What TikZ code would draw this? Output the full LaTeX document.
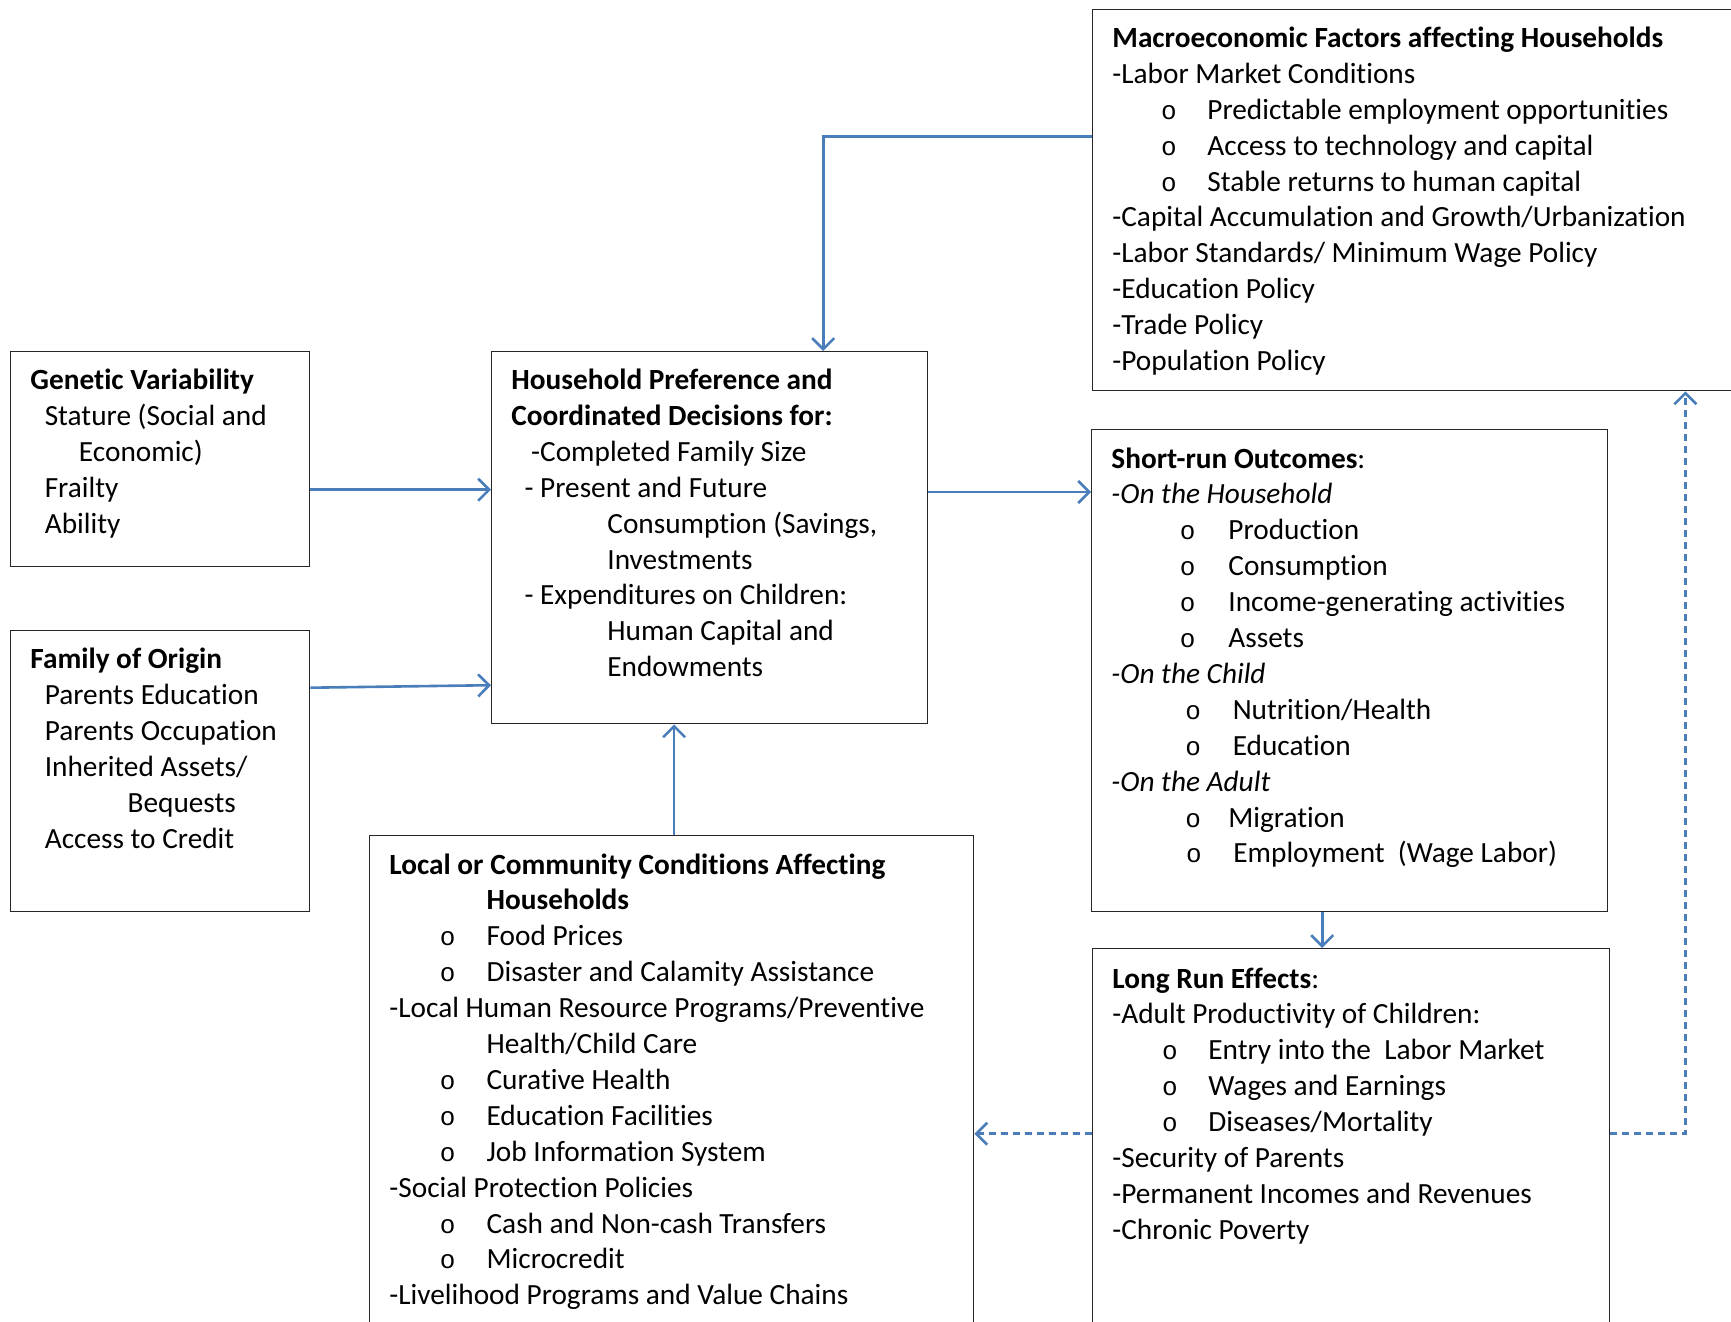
\documentclass[tikz,border=0pt]{standalone}
\usepackage{fontspec}
\setmainfont[Ligatures={NoCommon}]{Carlito}
\newfontfamily\bulletfont{Liberation Mono}
\usepackage{tikz}
\usetikzlibrary{positioning}
\usetikzlibrary{arrows.meta}
\usetikzlibrary{calc}
\definecolor{arrowblue}{RGB}{74,126,187}
\newcommand{\bodyfont}{\fontsize{14.65pt}{17.95pt}\selectfont}
\newcommand{\boxlines}[1]{\begin{minipage}[t]{330pt}\bodyfont\setlength{\parindent}{0pt}#1\end{minipage}}
\newcommand{\bul}[3]{\hspace*{#1}\makebox[\dimexpr #2-#1\relax][l]{\bulletfont\fontsize{13pt}{13pt}\selectfont o}#3}
\tikzstyle{frame}=[draw=black!85,line width=0.7pt,anchor=north west,inner sep=0pt]
\tikzstyle{boxtext}=[anchor=base west,inner sep=0pt]
\tikzstyle{edge} = [draw,line width=1.3pt,arrowblue,->,>={Straight Barb[length=5.5pt,width=11pt]}]
\tikzstyle{feedback} = [edge,dash pattern=on 3.5pt off 2.5pt]

\begin{document}
\begin{tikzpicture}[x=0.5pt,y=-0.5pt]
    \useasboundingbox (0,0) rectangle (1731,1322);

    \foreach \pos/\name/\boxw/\boxh in {{(1092,9)/macro/350/190.5}, {(10,351)/gv/149.5/107.5},
            {(10,630)/fam/149.5/140.5}, {(491,351)/hh/218/186}, {(1091,429)/sr/258/241},
            {(369,835)/local/302/300}, {(1092,948)/lr/258.5/250}}
        \node[frame,minimum width=\boxw pt,minimum height=\boxh pt] (\name) at \pos {};

    % box texts
    \node[boxtext] (macrotext) at ($(macro.north west)+(20,38.5)$) {\boxlines{%
        \textbf{Macroeconomic Factors affecting Households}\\
        -Labor Market Conditions\\
        \bul{24.3pt}{47.5pt}{Predictable employment opportunities}\\
        \bul{24.3pt}{47.5pt}{Access to technology and capital}\\
        \bul{24.3pt}{47.5pt}{Stable returns to human capital}\\
        -Capital Accumulation and Growth/Urbanization\\
        -Labor Standards/ Minimum Wage Policy\\
        -Education Policy\\
        -Trade Policy\\
        -Population Policy}};

    \node[boxtext] (gvtext) at ($(gv.north west)+(20,38.5)$) {\boxlines{%
        \textbf{Genetic Variability}\\
        \hspace*{7.2pt}Stature (Social and\\
        \hspace*{24.3pt}Economic)\\
        \hspace*{7.2pt}Frailty\\
        \hspace*{7.2pt}Ability}};

    \node[boxtext] (famtext) at ($(fam.north west)+(20,38.5)$) {\boxlines{%
        \textbf{Family of Origin}\\
        \hspace*{7.2pt}Parents Education\\
        \hspace*{7.2pt}Parents Occupation\\
        \hspace*{7.2pt}Inherited Assets/\\
        \hspace*{48.6pt}Bequests\\
        \hspace*{7.2pt}Access to Credit}};

    \node[boxtext] (hhtext) at ($(hh.north west)+(20,38.5)$) {\boxlines{%
        \textbf{Household Preference and}\\
        \textbf{Coordinated Decisions for:}\\
        \hspace*{9.9pt}-Completed Family Size\\
        \hspace*{6.6pt}- Present and Future\\
        \hspace*{48pt}Consumption (Savings,\\
        \hspace*{48pt}Investments\\
        \hspace*{6.6pt}- Expenditures on Children:\\
        \hspace*{48pt}Human Capital and\\
        \hspace*{48pt}Endowments}};

    \node[boxtext] (srtext) at ($(sr.north west)+(20,39)$) {\boxlines{%
        \textbf{Short-run Outcomes}:\\
        \textit{-On the Household}\\
        \bul{34.2pt}{58.5pt}{Production}\\
        \bul{34.2pt}{58.5pt}{Consumption}\\
        \bul{34.2pt}{58.5pt}{Income-generating activities}\\
        \bul{34.2pt}{58.5pt}{Assets}\\
        \textit{-On the Child}\\
        \bul{37pt}{60.7pt}{Nutrition/Health}\\
        \bul{37pt}{60.7pt}{Education}\\
        \textit{-On the Adult}\\
        \bul{37pt}{58.5pt}{Migration}\\
        \bul{37.3pt}{61pt}{Employment\ \ (Wage Labor)}}};

    \node[boxtext] (localtext) at ($(local.north west)+(20,39)$) {\boxlines{%
        \textbf{Local or Community Conditions Affecting}\\
        \hspace*{48.6pt}\textbf{Households}\\
        \bul{25.2pt}{48.6pt}{Food Prices}\\
        \bul{25.2pt}{48.6pt}{Disaster and Calamity Assistance}\\
        -Local Human Resource Programs/Preventive\\
        \hspace*{48.6pt}Health/Child Care\\
        \bul{25.2pt}{48.6pt}{Curative Health}\\
        \bul{25.2pt}{48.6pt}{Education Facilities}\\
        \bul{25.2pt}{48.6pt}{Job Information System}\\
        -Social Protection Policies\\
        \bul{25.2pt}{48.6pt}{Cash and Non-cash Transfers}\\
        \bul{25.2pt}{48.6pt}{Microcredit}\\
        -Livelihood Programs and Value Chains}};

    \node[boxtext] (lrtext) at ($(lr.north west)+(20,40)$) {\boxlines{%
        \textbf{Long Run Effects}:\\
        -Adult Productivity of Children:\\
        \bul{24.8pt}{48pt}{Entry into the\ \ Labor Market}\\
        \bul{24.8pt}{48pt}{Wages and Earnings}\\
        \bul{24.8pt}{48pt}{Diseases/Mortality}\\
        -Security of Parents\\
        -Permanent Incomes and Revenues\\
        -Chronic Poverty}};

    % connectors
    \path[edge] ($(gv.east)+(0,30.5)$) -- ($(hh.west)+(0,-48)$);
    \path[edge] ($(fam.east)+(0,-83.5)$) -- ($(hh.west)+(0,147.5)$);
    \path[edge] ($(macro.west)+(0,-63.5)$) -| ($(hh.north)+(113.5,0)$);
    \path[edge] ($(hh.east)+(0,-45.7)$) -- ($(sr.west)+(0,-178.7)$);
    \path[edge] ($(local.north)+(2.4,0)$) -- ($(hh.south)+(-35.6,0)$);
    \path[edge] ($(sr.south)+(-27.5,0)$) -- ($(lr.north)+(-29,0)$);
    \path[feedback] ($(lr.west)+(0,-65)$) -- ($(local.east)+(0,-2)$);
    \path[feedback] ($(lr.east)+(0,-65)$) -| ($(macro.south)+(242.7,0)$);

\end{tikzpicture}
\end{document}
